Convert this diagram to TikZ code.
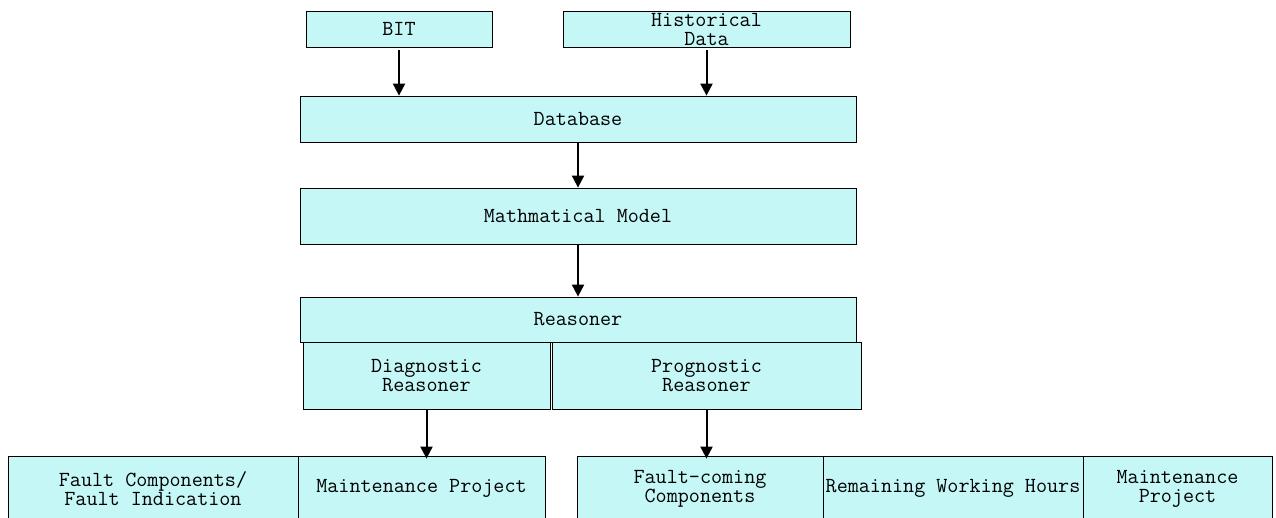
\documentclass[tikz,border=0pt]{standalone}
\usepackage{fontspec}
\usetikzlibrary{arrows.meta}
\definecolor{boxfill}{RGB}{198,247,247}
\begin{document}
\begin{tikzpicture}[x=1pt,y=-1pt,
  blk/.style={draw=black,line width=0.8pt,fill=boxfill,rectangle,inner sep=0pt,align=center,
    font=\ttfamily\fontsize{21.5}{19}\selectfont},
  arr/.style={-{Triangle[width=12pt,length=12pt]},line width=2pt,black}]
\useasboundingbox (0,0) rectangle (1276,517);
\node [blk,minimum width=186pt,minimum height=36pt] (bit) at (399,29) {BIT};
\node [blk,minimum width=287pt,minimum height=36pt] (hist) at (706.5,29) {Historical\\Data};
\node [blk,minimum width=556pt,minimum height=46pt] (db) at (578,119) {Database};
\node [blk,minimum width=556pt,minimum height=56pt] (model) at (578,216) {Mathmatical Model};
\node [blk,minimum width=556pt,minimum height=45pt] (reas) at (578,319.5) {Reasoner};
\node [blk,minimum width=247pt,minimum height=67pt] (diag) at (426.5,375.5) {Diagnostic\\Reasoner};
\node [blk,minimum width=309pt,minimum height=67pt] (prog) at (706.5,375.5) {Prognostic\\Reasoner};
% output row, cut at the bottom edge
\node [blk,minimum width=290pt,minimum height=65pt] (fcomp) at (153,488.5) {Fault Components/\\Fault Indication};
\node [blk,minimum width=247pt,minimum height=65pt] (dproj) at (421.5,488.5) {Maintenance Project};
\node [blk,minimum width=246pt,minimum height=65pt] (fcom) at (700,488.5) {Fault-coming\\Components};
\node [blk,minimum width=260pt,minimum height=65pt] (rem) at (953,488.5) {Remaining Working Hours};
\node [blk,minimum width=189pt,minimum height=65pt] (pproj) at (1177.5,488.5) {Maintenance\\Project};
\draw [arr] ([yshift=-3pt]bit.south) -- (bit.south |- db.north);
\draw [arr] ([yshift=-3pt]hist.south) -- (hist.south |- db.north);
\draw [arr] (db.south) -- (model.north);
\draw [arr] (model.south) -- (reas.north);
\draw [arr] (diag.south) -- ([yshift=-3pt]diag.south |- dproj.north);
\draw [arr] (prog.south) -- ([yshift=-3pt]prog.south |- fcom.north);
\end{tikzpicture}
\end{document}
